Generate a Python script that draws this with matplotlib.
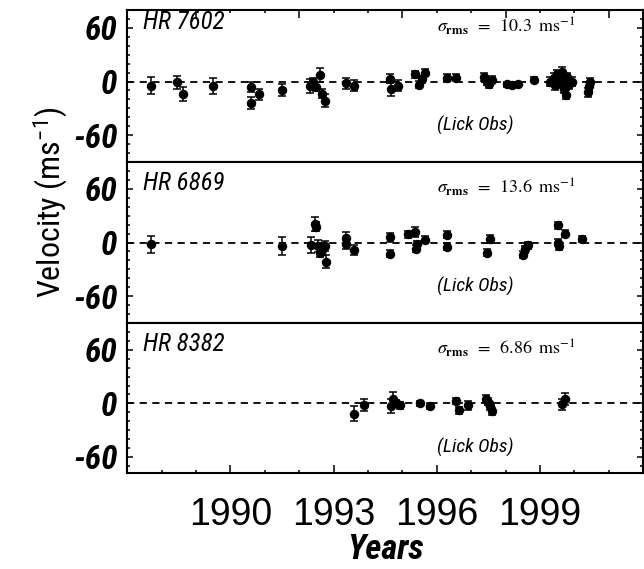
import numpy as np
import matplotlib
matplotlib.use('Agg')
from matplotlib import pyplot as plt
from matplotlib.ticker import MultipleLocator

# --- data (epoch in years, velocity and error in m/s) ---
stars = ['HR 7602', 'HR 6869', 'HR 8382']
rms_vals = ['10.3', '13.6', '6.86']

t_7602 = [1987.70, 1988.44, 1988.62, 1989.48, 1990.61, 1990.61, 1990.84, 1991.49,
          1992.30, 1992.40, 1992.50, 1992.60, 1992.65, 1992.75, 1993.37, 1993.60,
          1994.64, 1994.66, 1994.88, 1995.37, 1995.47, 1995.57, 1995.67, 1996.30,
          1996.57, 1997.38, 1997.45, 1997.52, 1997.60, 1998.05, 1998.20, 1998.35,
          1998.84, 1999.30, 1999.40, 1999.45, 1999.50, 1999.55, 1999.60, 1999.65,
          1999.70, 1999.75, 1999.80, 1999.85, 1999.92, 2000.40, 2000.42, 2000.45]
v_7602 = [-4.7, -0.8, -13.6, -4.7, -5.8, -24.0, -14.4, -9.7,
          -4.7, -0.8, -5.8, 7.0, -13.6, -21.4, -2.0, -4.7,
          3.0, -8.5, -4.7, 8.2, -3.5, 2.3, 9.7, 4.3,
          4.3, 5.0, 0.0, -3.0, 2.0, -3.0, -3.5, -3.0,
          2.0, 0.0, 4.0, -4.0, 8.0, -2.0, 3.0, 11.0,
          -8.0, -15.0, 5.0, -3.0, 0.0, -12.0, -5.0, 0.0]
e_7602 = [9.3, 7.0, 8.0, 8.7, 5.6, 7.0, 6.0, 7.0,
          8.0, 5.0, 5.0, 8.0, 5.0, 7.0, 6.5, 6.0,
          5.0, 8.0, 6.0, 4.0, 4.0, 4.0, 4.0, 4.0,
          4.0, 4.0, 4.0, 4.0, 4.0, 3.0, 3.0, 3.0,
          3.0, 5.0, 5.0, 5.0, 5.0, 5.0, 5.0, 5.0,
          5.0, 5.0, 5.0, 5.0, 5.0, 5.0, 5.0, 4.0]

t_6869 = [1987.70, 1991.49, 1992.35, 1992.47, 1992.50, 1992.55, 1992.60, 1992.65,
          1992.75, 1992.78, 1993.37, 1993.37, 1993.60, 1994.64, 1994.64, 1995.17,
          1995.37, 1995.42, 1995.40, 1995.67, 1996.30, 1996.30, 1997.45, 1997.56,
          1998.51, 1998.57, 1998.64, 1999.54, 1999.54, 1999.56, 1999.74, 2000.22]
v_6869 = [-2.0, -4.0, -3.0, 21.0, 17.5, -4.0, -11.6, -8.5,
          -4.0, -21.4, 4.7, -2.0, -8.5, 5.8, -12.4, 9.0,
          11.6, -2.0, -7.0, 3.0, 8.5, -4.7, -11.6, 3.9,
          -13.6, -7.8, -3.0, 19.4, 0.0, -4.0, 9.7, 3.9]
e_6869 = [9.7, 9.7, 9.0, 8.0, 5.0, 7.0, 5.0, 5.0,
          6.0, 7.0, 7.0, 5.0, 5.5, 5.0, 4.0, 4.0,
          6.0, 4.0, 4.0, 4.0, 4.0, 4.0, 4.0, 4.0,
          4.0, 4.0, 4.0, 4.0, 4.0, 4.0, 4.0, 3.0]

t_8382 = [1993.59, 1993.88, 1994.66, 1994.74, 1994.82, 1994.92, 1995.52, 1995.79,
          1996.57, 1996.65, 1996.92, 1997.43, 1997.50, 1997.55, 1997.60, 1999.64,
          1999.74]
v_8382 = [-11.6, -1.6, -3.0, 5.4, 0.0, -2.0, 0.0, -3.0,
          2.7, -7.8, -2.3, 5.4, 2.0, -3.0, -8.9, -1.2,
          4.7]
e_8382 = [8.7, 7.0, 7.8, 7.0, 4.0, 4.0, 3.0, 3.0,
          3.0, 4.0, 5.0, 4.0, 4.0, 4.0, 4.0, 6.0,
          7.0]

times = [t_7602, t_6869, t_8382]
vels = [v_7602, v_6869, v_8382]
errs = [e_7602, e_6869, e_8382]
ylims = [(-90, 80), (-90, 90), (-78, 90)]

cond = 'Roboto Condensed'
plt.rcParams['mathtext.fontset'] = 'stix'

fig = plt.figure(figsize=(6.44, 5.69), dpi=100)
left, width = 0.1977, 0.8008
boxes = [(0.7153, 0.2671), (0.4323, 0.2830), (0.1687, 0.2636)]

for i in range(3):
    ax = fig.add_axes([left, boxes[i][0], width, boxes[i][1]])
    ax.axhline(0, color='k', lw=1.3, dashes=(4.0, 3.0), zorder=1)
    ax.errorbar(times[i], vels[i], yerr=errs[i], fmt='o', color='k', ms=5.8,
                elinewidth=1.1, capsize=3.2, capthick=1.1, zorder=3)
    ax.set_xlim(1987, 2002)
    ax.set_ylim(*ylims[i])

    for sp in ax.spines.values():
        sp.set_linewidth(1.5)

    ax.yaxis.set_major_locator(MultipleLocator(60))
    ax.yaxis.set_minor_locator(MultipleLocator(10))
    ax.xaxis.set_major_locator(MultipleLocator(3))
    ax.xaxis.set_minor_locator(MultipleLocator(1))
    ax.tick_params(axis='y', which='both', direction='in', left=True, right=True, width=1.1, pad=7)
    ax.tick_params(axis='y', which='major', length=4.5)
    ax.tick_params(axis='y', which='minor', length=2.5)
    ax.tick_params(axis='x', which='both', direction='in', width=1.1,
                   top=(i == 0), bottom=(i == 2), labelbottom=(i == 2), pad=17)
    ax.tick_params(axis='x', which='major', length=5.8)
    ax.tick_params(axis='x', which='minor', length=2.5)

    ax.set_yticks([-60, 0, 60])
    ax.set_yticklabels(['-60', '0', '60'], family=cond, weight='bold',
                       style='italic', fontsize=24)
    if i == 2:
        ax.set_xticks([1990, 1993, 1996, 1999])
        ax.set_xticklabels(['1990', '1993', '1996', '1999'],
                           family='Liberation Sans', fontsize=27)
        ax.set_xlabel('Years', family=cond, weight='bold', style='italic',
                      fontsize=25, labelpad=0)

    ax.text(1987.45, 67, stars[i], family=cond, style='italic', fontsize=18,
            ha='left', va='center')
    ax.text(1996.0, 62,
            r'$\sigma_{\mathbf{rms}}\;\;=\;\;%s\;\;\mathrm{ms}^{-1}$' % rms_vals[i],
            fontsize=13, ha='left', va='center')
    ax.text(1996.0, -49, '(Lick Obs)', family=cond, style='italic', fontsize=14,
            ha='left', va='center')

fig.text(0.079, 0.645, r'Velocity (ms$^{\mathregular{-1}}$)', family=cond,
         fontsize=23, rotation=90, ha='center', va='center')

fig.savefig('out.png', dpi=100)
